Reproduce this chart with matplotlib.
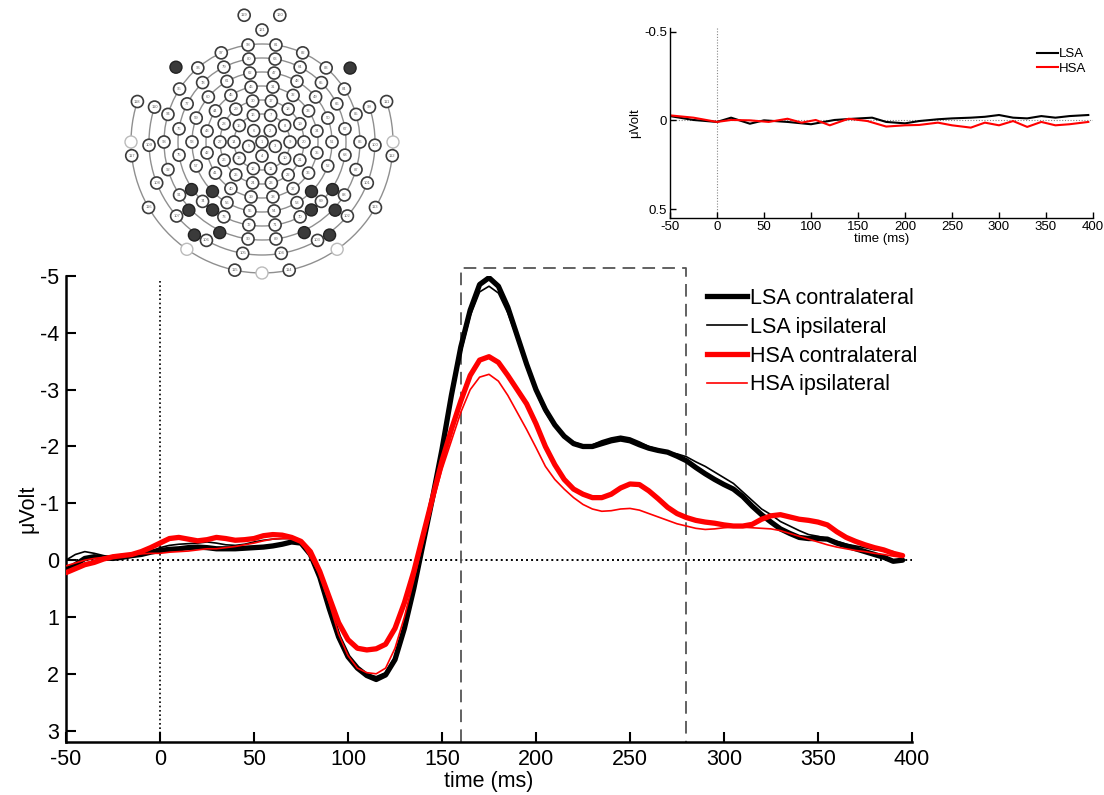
import numpy as np
import matplotlib
matplotlib.use("Agg")
import matplotlib.pyplot as plt
from matplotlib.lines import Line2D
from matplotlib.patches import Circle, Arc

plt.rcParams['font.family'] = ['Liberation Sans', 'DejaVu Sans']
plt.rcParams['axes.unicode_minus'] = False

# ---------------- data ----------------
time_ms = list(range(-50, 400, 5))

lsa_contra = [0.18, 0.08, -0.03, -0.06, -0.04, -0.03, -0.05, -0.08, -0.10, -0.14,
              -0.17, -0.19, -0.20, -0.22, -0.23, -0.22, -0.20, -0.20, -0.20, -0.21,
              -0.22, -0.23, -0.25, -0.28, -0.32, -0.30, -0.10, 0.30, 0.85, 1.35,
              1.70, 1.90, 2.03, 2.10, 2.02, 1.75, 1.20, 0.50, -0.30, -1.10,
              -1.95, -2.90, -3.75, -4.40, -4.85, -4.97, -4.82, -4.45, -3.95, -3.45,
              -3.00, -2.65, -2.38, -2.18, -2.05, -2.00, -2.00, -2.05, -2.10, -2.13,
              -2.10, -2.03, -1.97, -1.93, -1.90, -1.83, -1.75, -1.63, -1.52, -1.42,
              -1.33, -1.25, -1.12, -0.95, -0.80, -0.67, -0.55, -0.47, -0.40, -0.38,
              -0.38, -0.37, -0.30, -0.25, -0.20, -0.15, -0.10, -0.05, 0.02, 0.00]

lsa_ipsi = [0.00, -0.10, -0.15, -0.12, -0.08, -0.05, -0.05, -0.06, -0.08, -0.15,
            -0.22, -0.26, -0.28, -0.29, -0.30, -0.32, -0.30, -0.27, -0.26, -0.28,
            -0.32, -0.35, -0.37, -0.38, -0.38, -0.35, -0.15, 0.30, 0.90, 1.40,
            1.72, 1.90, 2.00, 2.05, 1.98, 1.70, 1.15, 0.45, -0.30, -1.10,
            -1.95, -2.85, -3.65, -4.30, -4.72, -4.82, -4.70, -4.35, -3.90, -3.40,
            -2.95, -2.60, -2.35, -2.18, -2.08, -2.02, -2.03, -2.10, -2.15, -2.18,
            -2.15, -2.08, -2.00, -1.95, -1.90, -1.87, -1.82, -1.73, -1.65, -1.55,
            -1.45, -1.35, -1.20, -1.05, -0.90, -0.80, -0.68, -0.60, -0.52, -0.45,
            -0.42, -0.38, -0.33, -0.28, -0.25, -0.22, -0.18, -0.17, -0.15, -0.05]

hsa_contra = [0.22, 0.15, 0.08, 0.04, -0.02, -0.06, -0.08, -0.10, -0.15, -0.22,
              -0.30, -0.38, -0.40, -0.37, -0.34, -0.36, -0.40, -0.38, -0.35, -0.36,
              -0.38, -0.43, -0.45, -0.44, -0.40, -0.33, -0.15, 0.20, 0.65, 1.10,
              1.40, 1.55, 1.58, 1.56, 1.48, 1.20, 0.75, 0.20, -0.45, -1.10,
              -1.75, -2.30, -2.80, -3.25, -3.52, -3.58, -3.48, -3.25, -3.00, -2.75,
              -2.40, -2.00, -1.68, -1.42, -1.25, -1.16, -1.10, -1.10, -1.16, -1.27,
              -1.34, -1.33, -1.22, -1.08, -0.93, -0.82, -0.75, -0.70, -0.67, -0.65,
              -0.62, -0.60, -0.60, -0.63, -0.72, -0.78, -0.80, -0.76, -0.72, -0.70,
              -0.67, -0.62, -0.50, -0.40, -0.33, -0.27, -0.22, -0.18, -0.12, -0.08]

hsa_ipsi = [0.10, 0.05, 0.00, -0.03, -0.05, -0.08, -0.10, -0.10, -0.11, -0.12,
            -0.12, -0.14, -0.15, -0.16, -0.18, -0.20, -0.20, -0.22, -0.24, -0.27,
            -0.30, -0.34, -0.37, -0.38, -0.38, -0.32, -0.05, 0.25, 0.75, 1.30,
            1.68, 1.90, 1.98, 2.00, 1.90, 1.55, 1.00, 0.35, -0.35, -1.00,
            -1.60, -2.10, -2.60, -3.00, -3.22, -3.27, -3.15, -2.90, -2.60, -2.30,
            -1.98, -1.65, -1.42, -1.25, -1.10, -0.98, -0.90, -0.86, -0.87, -0.90,
            -0.91, -0.88, -0.82, -0.76, -0.70, -0.64, -0.60, -0.56, -0.54, -0.55,
            -0.57, -0.58, -0.58, -0.57, -0.56, -0.55, -0.52, -0.47, -0.42, -0.37,
            -0.32, -0.27, -0.23, -0.20, -0.17, -0.15, -0.12, -0.10, -0.07, -0.05]

series_labels = ["LSA contralateral", "LSA ipsilateral", "HSA contralateral", "HSA ipsilateral"]

# inset (difference waves)
inset_t_lsa = [-50, -25, 0, 15, 35, 50, 75, 100, 125, 145, 165, 180, 200, 215, 235,
               250, 270, 285, 300, 315, 330, 345, 360, 375, 395]
inset_lsa = [-0.024, -0.002, 0.009, -0.015, 0.019, 0.0, 0.009, 0.022, -0.002, -0.009,
             -0.015, 0.009, 0.017, 0.004, -0.006, -0.011, -0.015, -0.020, -0.030, -0.015,
             -0.011, -0.024, -0.015, -0.024, -0.030]
inset_t_hsa = [-50, -25, 0, 15, 35, 55, 75, 90, 105, 120, 140, 160, 180, 200, 215,
               235, 250, 270, 285, 300, 315, 330, 345, 360, 375, 395]
inset_hsa = [-0.028, -0.015, 0.009, -0.002, 0.0, 0.009, -0.009, 0.013, -0.002, 0.028,
             -0.009, 0.004, 0.035, 0.028, 0.026, 0.013, 0.028, 0.041, 0.013, 0.028,
             0.004, 0.037, 0.009, 0.028, 0.022, 0.009]
inset_labels = ["LSA", "HSA"]

x_ticks = [-50, 0, 50, 100, 150, 200, 250, 300, 350, 400]
y_ticks = [-5, -4, -3, -2, -1, 0, 1, 2, 3]
inset_y_ticks = [-0.5, 0, 0.5]
inset_y_ticklabels = ["-0.5", "0", "0.5"]
roi_window = [160, 280]

# electrode map description (schematic)
ring_radii = [14, 28, 42, 56, 70, 84, 98]
ring_counts = [5, 10, 14, 16, 18, 20, 22]
partial_radii = [113, 131]
partial_counts = [12, 10]
dark_sites = [(-124, 85), (-135, 70), (-133, 100), (-144, 84), (-144, 115), (-155, 100),
              (124, 85), (135, 70), (133, 100), (144, 84), (144, 115), (155, 100),
              (-49, 114), (50, 115)]
open_sites = [(-90, 131), (90, 131), (-145, 131), (145, 131), (180, 131)]
top_sites = [(-8, 128), (8, 128), (0, 112)]

W, H = 1104, 795
fig = plt.figure(figsize=(W / 100, H / 100), dpi=100)

# ---------------- main axes ----------------
ax = fig.add_axes([66 / W, (H - 742) / H, (912 - 66) / W, (742 - 276) / H])
colors = ['black', 'black', '#ff0000', '#ff0000']
widths = [3.8, 1.2, 3.8, 1.2]
for vals, c, lw, lab in zip([lsa_contra, lsa_ipsi, hsa_contra, hsa_ipsi], colors, widths, series_labels):
    ax.plot(time_ms, vals, color=c, lw=lw, label=lab, solid_capstyle='round', zorder=3)

ax.set_xlim(-50, 400)
ax.set_ylim(3.2, -5.0)
ax.plot([-50, 400], [0, 0], color='black', ls=(0, (1, 1.6)), lw=1.4, zorder=2)
ax.plot([0, 0], [3.2, -4.95], color='black', ls=(0, (1, 1.6)), lw=1.2, zorder=2, clip_on=False)
ax.plot([roi_window[0], roi_window[0], roi_window[1], roi_window[1]], [3.2, -5.14, -5.14, 3.2],
        color='#555555', ls=(0, (7, 4)), lw=1.3, clip_on=False, zorder=2)

for s in ['top', 'right']:
    ax.spines[s].set_visible(False)
for s in ['left', 'bottom']:
    ax.spines[s].set_linewidth(1.8)
ax.set_xticks(x_ticks)
ax.set_yticks(y_ticks)
ax.set_yticklabels([str(v) for v in y_ticks])
ax.tick_params(direction='in', length=7, width=1.5, labelsize=15.5, pad=5)
ax.set_xlabel("time (ms)", fontsize=15.5, labelpad=1)
ax.set_ylabel("μVolt", fontsize=15.5, labelpad=1)

leg_handles = [Line2D([], [], color=c, lw=lw) for c, lw in zip(colors, widths)]
ax.legend(leg_handles, series_labels, loc='upper left', bbox_to_anchor=(707 / W, (H - 288) / H),
          bbox_transform=fig.transFigure, frameon=False, fontsize=15.5, handlelength=1.86,
          handletextpad=0.15, labelspacing=0.36, borderpad=0, borderaxespad=0)

# ---------------- inset ----------------
ai = fig.add_axes([670 / W, (H - 218) / H, (1093 - 670) / W, (218 - 28) / H])
ai.plot(inset_t_lsa, inset_lsa, color='black', lw=1.5, label=inset_labels[0])
ai.plot(inset_t_hsa, inset_hsa, color='#ff0000', lw=1.5, label=inset_labels[1])
ai.set_xlim(-50, 400)
ai.set_ylim(0.55, -0.52)
ai.plot([-50, 400], [0, 0], color='#888888', ls=(0, (1, 1.5)), lw=0.8, zorder=1)
ai.plot([0, 0], [0.55, -0.52], color='#888888', ls=(0, (1, 1.5)), lw=0.8, zorder=1)
for s in ['top', 'right']:
    ai.spines[s].set_visible(False)
for s in ['left', 'bottom']:
    ai.spines[s].set_linewidth(1.0)
ai.set_xticks(x_ticks)
ai.set_yticks(inset_y_ticks)
ai.set_yticklabels(inset_y_ticklabels)
ai.tick_params(direction='in', length=4, width=1, labelsize=9.5, pad=2)
ai.set_xlabel("time (ms)", fontsize=9.5, labelpad=0)
ai.set_ylabel("μVolt", fontsize=9.5, labelpad=2)
ai.legend(loc='upper right', bbox_to_anchor=(1.0, 0.93), frameon=False, fontsize=9.5,
          handlelength=1.6, handletextpad=0.1, labelspacing=0.2, borderpad=0)

# ---------------- electrode map ----------------
ah = fig.add_axes([118 / W, (H - 285) / H, (406 - 118) / W, 285 / H])
ah.set_xlim(118, 406)
ah.set_ylim(285, 0)
ah.set_aspect('equal')
ah.axis('off')
cx, cy = 262, 142

def pos(theta, r):
    th = np.deg2rad(theta)
    return cx + r * np.sin(th), cy - r * np.cos(th)

ring_col = '#8f8f8f'
for r in ring_radii[1:]:
    ah.add_patch(Circle((cx, cy), r, fill=False, ec=ring_col, lw=1.0, zorder=1))
for r in partial_radii:
    # arc covering the lower part of the head (y axis inverted -> +90 deg is down)
    ah.add_patch(Arc((cx, cy), 2 * r, 2 * r, theta1=-18, theta2=198,
                     ec=ring_col, lw=1.0, zorder=1))

dark_xy = [pos(t, r) for t, r in dark_sites]
open_xy = [pos(t, r) for t, r in open_sites]
blocked = dark_xy + open_xy

sites = [(cx, cy)]
for r, n in zip(ring_radii, ring_counts):
    for k in range(n):
        sites.append(pos(360.0 * (k + 0.5) / n, r))
for r, n in zip(partial_radii, partial_counts):
    for k in range(n):
        th = -108 + (216.0 * k / (n - 1))
        sites.append(pos(180 + th, r))
sites += [pos(t, r) for t, r in top_sites]

er = 6.0
num = 1
for (x, y) in sites:
    if any((x - bx) ** 2 + (y - by) ** 2 < 11 ** 2 for bx, by in blocked):
        continue
    ah.add_patch(Circle((x, y), er, fc='white', ec='#3c3c3c', lw=1.2, zorder=3))
    ah.text(x, y, str(num), fontsize=3, ha='center', va='center', color='#666666', zorder=4)
    num += 1
for (x, y) in dark_xy:
    ah.add_patch(Circle((x, y), er, fc='#3a3a3a', ec='#222222', lw=1.0, zorder=3))
for (x, y) in open_xy:
    ah.add_patch(Circle((x, y), er, fc='white', ec='#bbbbbb', lw=1.0, zorder=3))

fig.savefig("out.png", dpi=100)
